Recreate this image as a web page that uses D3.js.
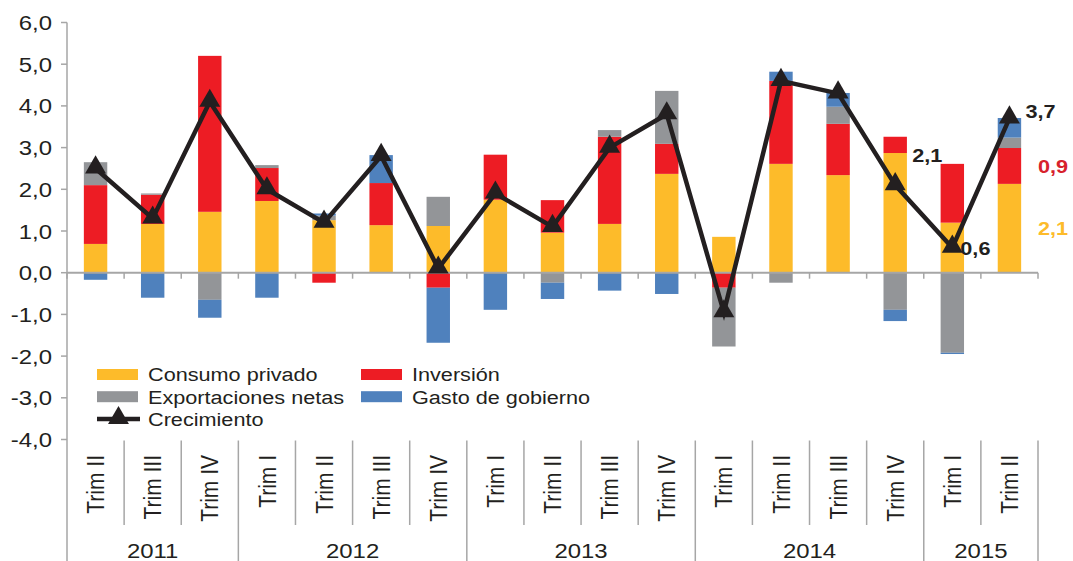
<!DOCTYPE html>
<html>
<head>
<meta charset="utf-8">
<script src="https://cdn.jsdelivr.net/npm/d3@7/dist/d3.min.js"></script>
<style>
  body { margin: 0; background: #fff; }
  svg text { font-family: "Liberation Sans", Arial, sans-serif; fill: #231f20; }
</style>
</head>
<body>
<div id="chart"></div>
<script>
  'use strict';

  // quarters and years
  var categories = ['Trim II', 'Trim III', 'Trim IV',
    'Trim I', 'Trim II', 'Trim III', 'Trim IV',
    'Trim I', 'Trim II', 'Trim III', 'Trim IV',
    'Trim I', 'Trim II', 'Trim III', 'Trim IV',
    'Trim I', 'Trim II'];
  var years = ['2011', '2012', '2013', '2014', '2015'];
  var yearCounts = [3, 4, 4, 4, 2];

  // contributions to growth (pp)
  var consumo = [0.69, 1.17, 1.46, 1.72, 1.26, 1.14, 1.12, 1.75, 0.96, 1.17, 2.37, 0.86, 2.61, 2.34, 2.87, 1.20, 2.13];
  var inversion = [1.41, 0.70, 3.74, 0.79, -0.24, 1.01, -0.36, 1.08, 0.78, 2.09, 0.72, -0.36, 1.99, 1.23, 0.39, 1.41, 0.86];
  var exportaciones = [0.55, 0.03, -0.65, 0.07, 0.11, 0, 0.70, 0, -0.24, 0.16, 1.27, -1.41, -0.24, 0.41, -0.89, -1.92, 0.25];
  var gasto = [-0.17, -0.60, -0.43, -0.60, 0.05, 0.67, -1.32, -0.89, -0.39, -0.43, -0.51, 0, 0.22, 0.33, -0.27, -0.03, 0.47];
  var crecimiento = [2.5, 1.3, 4.1, 2.0, 1.2, 2.8, 0.1, 1.9, 1.1, 3.0, 3.8, -0.95, 4.6, 4.3, 2.1, 0.6, 3.7];

  var yTicks = [6, 5, 4, 3, 2, 1, 0, -1, -2, -3, -4];

  var seriesNames = ['Consumo privado', 'Inversión', 'Exportaciones netas', 'Gasto de gobierno'];
  var seriesColors = ['#fdbb2a', '#ed1c24', '#939598', '#4f81bd'];

  var W = 1073, H = 561;
  var plotLeft = 67, plotRight = 1038, plotTop = 22.5, plotBottom = 439.5;
  var axisColor = '#a6a6a6';
  var sx = 1.14; // the reference text is a bit wide

  var svg = d3.select('#chart').append('svg')
    .attr('width', W)
    .attr('height', H);

  var idx = d3.range(categories.length);
  var x = d3.scaleBand().domain(idx).range([plotLeft, plotRight]).padding(0);
  var y = d3.scaleLinear().domain([-4, 6]).range([plotBottom, plotTop]);
  var barW = x.bandwidth() * 0.41;

  function stretch(px, py, rot) {
    return 'translate(' + px + ',' + py + ') scale(' + sx + ',1)' + (rot ? ' rotate(' + rot + ')' : '');
  }

  // stacked bars
  var rows = idx.map(function(i) {
    return { i: i, c: consumo[i], inv: inversion[i], exp: exportaciones[i], gas: gasto[i] };
  });
  var stack = d3.stack()
    .keys(['c', 'inv', 'exp', 'gas'])
    .offset(d3.stackOffsetDiverging);
  var layers = stack(rows);

  svg.append('g').selectAll('g')
    .data(layers)
    .join('g')
    .attr('fill', function(d, k) { return seriesColors[k]; })
    .selectAll('rect')
    .data(function(d) { return d; })
    .join('rect')
    .attr('x', function(d) { return x(d.data.i) + (x.bandwidth() - barW) / 2; })
    .attr('width', barW)
    .attr('y', function(d) { return y(Math.max(d[0], d[1])); })
    .attr('height', function(d) { return Math.abs(y(d[0]) - y(d[1])); });

  // y axis
  var yAxis = svg.append('g');
  yAxis.append('line')
    .attr('x1', plotLeft).attr('x2', plotLeft)
    .attr('y1', plotTop).attr('y2', H)
    .attr('stroke', axisColor).attr('stroke-width', 1.5);
  yAxis.selectAll('line.tick')
    .data(yTicks)
    .join('line')
    .attr('class', 'tick')
    .attr('x1', plotLeft - 6).attr('x2', plotLeft)
    .attr('y1', function(d) { return y(d); })
    .attr('y2', function(d) { return y(d); })
    .attr('stroke', axisColor).attr('stroke-width', 1.5);
  yAxis.selectAll('text')
    .data(yTicks)
    .join('text')
    .attr('transform', function(d) { return stretch(52, y(d), 0); })
    .attr('dy', '0.36em')
    .attr('text-anchor', 'end')
    .style('font-size', '21px')
    .text(function(d) { return d3.format('.1f')(d).replace('.', ',').replace('−', '-'); });

  // zero line with small ticks
  var zero = svg.append('g');
  zero.append('line')
    .attr('x1', plotLeft).attr('x2', plotRight)
    .attr('y1', y(0)).attr('y2', y(0))
    .attr('stroke', axisColor).attr('stroke-width', 2);
  zero.selectAll('line.t')
    .data(d3.range(categories.length + 1))
    .join('line')
    .attr('class', 't')
    .attr('x1', function(k) { return plotLeft + k * x.step(); })
    .attr('x2', function(k) { return plotLeft + k * x.step(); })
    .attr('y1', y(0)).attr('y2', y(0) + 6)
    .attr('stroke', axisColor).attr('stroke-width', 1.5);

  // category axis below the plot
  var yearEdges = [0];
  yearCounts.forEach(function(n, k) { yearEdges.push(yearEdges[k] + n); });

  var cat = svg.append('g');
  cat.selectAll('line')
    .data(d3.range(1, categories.length + 1))
    .join('line')
    .attr('x1', function(k) { return plotLeft + k * x.step(); })
    .attr('x2', function(k) { return plotLeft + k * x.step(); })
    .attr('y1', plotBottom + 1)
    .attr('y2', function(k) { return yearEdges.indexOf(k) >= 0 ? H : 525; })
    .attr('stroke', axisColor).attr('stroke-width', 1.5);

  cat.selectAll('text.q')
    .data(idx)
    .join('text')
    .attr('class', 'q')
    .attr('transform', function(i) { return stretch(x(i) + x.bandwidth() / 2, 455, -90); })
    .attr('dy', '0.36em')
    .attr('text-anchor', 'end')
    .style('font-size', '21px')
    .text(function(i) { return categories[i]; });

  cat.selectAll('text.year')
    .data(years)
    .join('text')
    .attr('class', 'year')
    .attr('transform', function(d, k) {
      var mx = plotLeft + (yearEdges[k] + yearEdges[k + 1]) / 2 * x.step();
      return stretch(mx, 550, 0);
    })
    .attr('dy', '0.36em')
    .attr('text-anchor', 'middle')
    .style('font-size', '21px')
    .text(function(d) { return d; });

  // growth line
  var cx = function(i) { return x(i) + x.bandwidth() / 2; };
  var line = d3.line()
    .x(function(d, i) { return cx(i); })
    .y(function(d) { return y(d); });

  svg.append('path')
    .datum(crecimiento)
    .attr('d', line)
    .attr('fill', 'none')
    .attr('stroke', '#231f20')
    .attr('stroke-width', 4.5)
    .attr('stroke-linejoin', 'miter');

  var tri = d3.symbol().type(d3.symbolTriangle).size(190);
  svg.append('g').selectAll('path')
    .data(crecimiento)
    .join('path')
    .attr('d', tri)
    .attr('transform', function(d, i) { return 'translate(' + cx(i) + ',' + (y(d) - 1) + ')'; })
    .attr('fill', '#231f20');

  // value labels
  var last = categories.length - 1;
  var labels = [
    { text: '2,1', x: cx(14) + 17, y: y(crecimiento[14]) - 30, color: '#231f20' },
    { text: '0,6', x: cx(15) + 8, y: y(crecimiento[15]), color: '#231f20' },
    { text: '3,7', x: cx(last) + 16, y: y(crecimiento[last]) - 7, color: '#231f20' },
    { text: '0,9', x: plotRight, y: y(consumo[last] + inversion[last] / 2), color: '#d7212c' },
    { text: '2,1', x: plotRight, y: y(consumo[last] / 2), color: '#fdbb2a' }
  ];
  svg.append('g').selectAll('text')
    .data(labels)
    .join('text')
    .attr('transform', function(d) { return stretch(d.x, d.y, 0); })
    .attr('dy', '0.36em')
    .style('font-size', '19px')
    .style('font-weight', 'bold')
    .style('fill', function(d) { return d.color; })
    .text(function(d) { return d.text; });

  // legend
  var legend = svg.append('g');
  var legendItems = [
    { name: seriesNames[0], color: seriesColors[0], px: 97, py: 374.5 },
    { name: seriesNames[2], color: seriesColors[2], px: 97, py: 396.7 },
    { name: seriesNames[1], color: seriesColors[1], px: 361, py: 374.5 },
    { name: seriesNames[3], color: seriesColors[3], px: 361, py: 396.7 }
  ];
  legend.selectAll('rect')
    .data(legendItems)
    .join('rect')
    .attr('x', function(d) { return d.px; })
    .attr('y', function(d) { return d.py - 5.5; })
    .attr('width', 41)
    .attr('height', 11)
    .attr('fill', function(d) { return d.color; });
  legend.selectAll('text')
    .data(legendItems)
    .join('text')
    .attr('transform', function(d) { return stretch(d.px + 51, d.py, 0); })
    .attr('dy', '0.36em')
    .style('font-size', '19px')
    .text(function(d) { return d.name; });

  legend.append('line')
    .attr('x1', 97).attr('x2', 140)
    .attr('y1', 419).attr('y2', 419)
    .attr('stroke', '#231f20').attr('stroke-width', 4.5);
  legend.append('path')
    .attr('d', tri)
    .attr('transform', 'translate(118.5,418)')
    .attr('fill', '#231f20');
  legend.append('text')
    .attr('transform', stretch(148, 419, 0))
    .attr('dy', '0.36em')
    .style('font-size', '19px')
    .text('Crecimiento');
</script>
</body>
</html>
